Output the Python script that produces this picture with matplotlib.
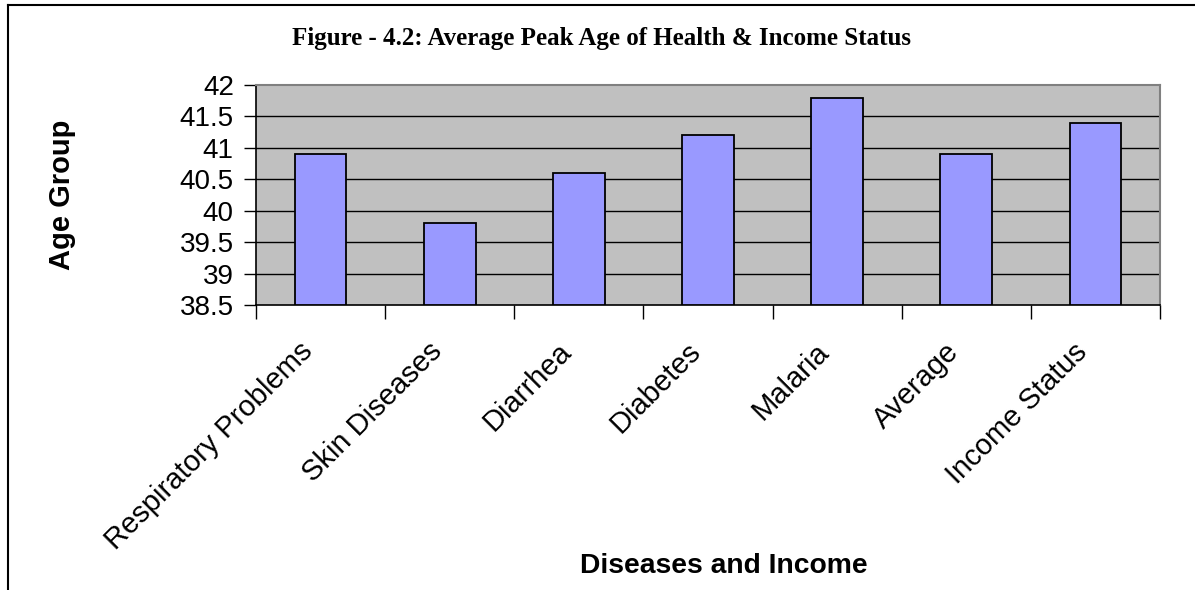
import matplotlib
matplotlib.use("Agg")
import matplotlib.pyplot as plt
from matplotlib.lines import Line2D
from matplotlib.transforms import ScaledTranslation

categories = ["Respiratory Problems", "Skin Diseases", "Diarrhea", "Diabetes",
              "Malaria", "Average", "Income Status"]
values = [40.9, 39.8, 40.6, 41.2, 41.8, 40.9, 41.4]
yticks = [38.5, 39, 39.5, 40, 40.5, 41, 41.5, 42]
ytick_labels = ["38.5", "39", "39.5", "40", "40.5", "41", "41.5", "42"]

W, H = 1195, 590
fig = plt.figure(figsize=(W / 100, H / 100), dpi=100)
fig.patch.set_facecolor("white")

ax = fig.add_axes([256 / W, 1 - 305 / H, (1160 - 256) / W, (305 - 85) / H])
ax.set_facecolor("#C0C0C0")
x = list(range(len(categories)))
ax.bar(x, [v - 38.5 for v in values], bottom=38.5, width=0.4, color="#9999FF",
       edgecolor="black", linewidth=1.3, zorder=3)
ax.set_xlim(-0.5, len(categories) - 0.5)
ax.set_ylim(38.5, 42)
ax.set_yticks(yticks)
ax.set_yticklabels(ytick_labels, fontfamily="Liberation Sans", fontsize=20)
for yv in yticks[1:-1]:
    ax.axhline(yv, color="black", linewidth=1.0, zorder=1)

ax.set_xticks(x)
ax.set_xticklabels(categories, rotation=45, ha="right", rotation_mode="anchor",
                   fontfamily="Liberation Sans", fontsize=21)
ax.tick_params(axis="x", length=0, pad=14)
offset = ScaledTranslation(-22 / 100, -13 / 100, fig.dpi_scale_trans)
for lab in ax.get_xticklabels():
    lab.set_transform(lab.get_transform() + offset)
ax.set_xticks([i - 0.5 for i in range(len(categories) + 1)], minor=True)
ax.tick_params(axis="x", which="minor", length=10, width=1, color="black", direction="out")
ax.tick_params(axis="y", length=9, width=1, color="black", direction="out", pad=7)

for s in ["top", "right"]:
    ax.spines[s].set_color("#808080")
    ax.spines[s].set_linewidth(1.5)
for s in ["left", "bottom"]:
    ax.spines[s].set_color("black")
    ax.spines[s].set_linewidth(1.2)

fig.text(602 / W, 1 - 39 / H, "Figure - 4.2: Average Peak Age of Health & Income Status",
         ha="center", va="center", fontfamily="Liberation Serif", fontweight="bold",
         fontsize=18)
fig.text(62 / W, 1 - 195 / H, "Age Group", rotation=90, ha="center", va="center",
         fontfamily="Liberation Sans", fontweight="bold", fontsize=21)
fig.text(724 / W, 1 - 566 / H, "Diseases and Income", ha="center", va="center",
         fontfamily="Liberation Sans", fontweight="bold", fontsize=20.3)

fig.add_artist(Line2D([8 / W, 8 / W], [0, 1 - 5 / H], transform=fig.transFigure,
                      color="black", linewidth=1.5))
fig.add_artist(Line2D([8 / W, 1], [1 - 5 / H, 1 - 5 / H], transform=fig.transFigure,
                      color="black", linewidth=1.5))

fig.savefig("out.png", dpi=100)
